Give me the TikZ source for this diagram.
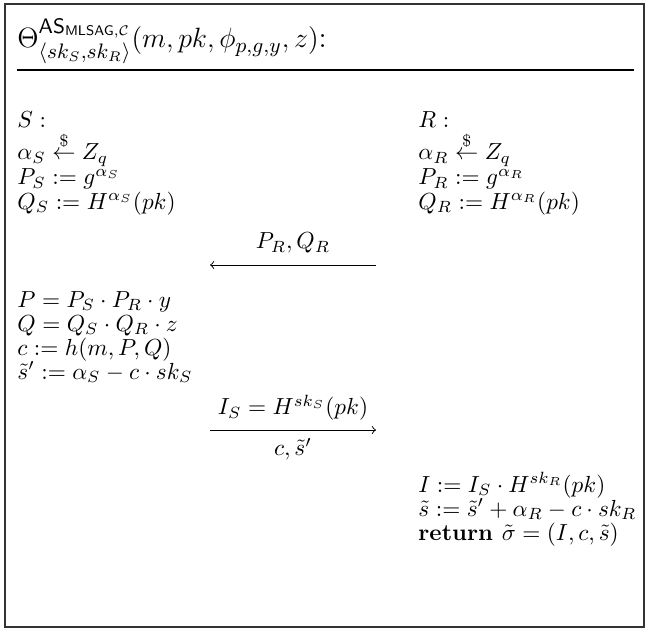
\documentclass[tikz,border=0pt]{standalone}
\usepackage{amsmath,amssymb}
\usetikzlibrary{positioning}

\tikzset{
  line/.style={anchor=base west, inner sep=0pt},
  msg/.style={->, line width=0.4pt},
}

\begin{document}
\begin{tikzpicture}[x=0.43pt,y=-0.43pt]
  \useasboundingbox (0,0) rectangle (649,631);
  \draw[line width=0.5pt, black!80] (5,4) rectangle (644,627);
  % title
  \node[line, font=\fontsize{12.9}{15}\selectfont] (title) at (17,48)
    {$\Theta^{\mathsf{AS}_{\mathsf{MLSAG},\mathcal{C}}}_{\langle sk_S,sk_R\rangle}(m,pk,\phi_{p,g,y},z)$:};
  \coordinate (ruleL) at (17,70);
  \coordinate (ruleR) at (634,70);
  \draw[line width=0.6pt] (ruleL) -- (ruleR);
  % sender S
  \node[line] (S) at (17,128) {$S:$};
  \node[line] (aS) at (17,160) {$\alpha_S \stackrel{\$}{\leftarrow} Z_q$};
  \node[line] (PS) at (17,185) {$P_S := g^{\alpha_S}$};
  \node[line] (QS) at (17,209) {$Q_S := H^{\alpha_S}(pk)$};
  % receiver R
  \node[line] (R) at (418,128) {$R:$};
  \node[line] (aR) at (418,160) {$\alpha_R \stackrel{\$}{\leftarrow} Z_q$};
  \node[line] (PR) at (418,185) {$P_R := g^{\alpha_R}$};
  \node[line] (QR) at (418,209) {$Q_R := H^{\alpha_R}(pk)$};
  % first message
  \coordinate (m1R) at (376,265);
  \coordinate (m1L) at (210,265);
  \draw[msg] (m1R) -- node[above=1.5pt] (m1) {$P_R,Q_R$} (m1L);
  % S computes
  \node[line] (P) at (17,307) {$P = P_S\cdot P_R\cdot y$};
  \node[line] (Q) at (17,331) {$Q = Q_S\cdot Q_R\cdot z$};
  \node[line] (c) at (17,355) {$c := h(m,P,Q)$};
  \node[line] (s1) at (17,379) {$\tilde{s}' := \alpha_S - c\cdot sk_S$};
  % second message
  \coordinate (m2L) at (210,430);
  \coordinate (m2R) at (376,430);
  \draw[msg] (m2L) -- node[above=0.5pt] (m2a) {$I_S = H^{sk_S}(pk)$}
    node[below=0pt] (m2b) {$c,\tilde{s}'$} (m2R);
  % R computes
  \node[line] (I) at (418,492) {$I := I_S\cdot H^{sk_R}(pk)$};
  \node[line] (s) at (418,516) {$\tilde{s} := \tilde{s}' + \alpha_R - c\cdot sk_R$};
  \node[line] (ret) at (418,540) {$\textbf{return }\tilde{\sigma} = (I,c,\tilde{s})$};
\end{tikzpicture}
\end{document}
